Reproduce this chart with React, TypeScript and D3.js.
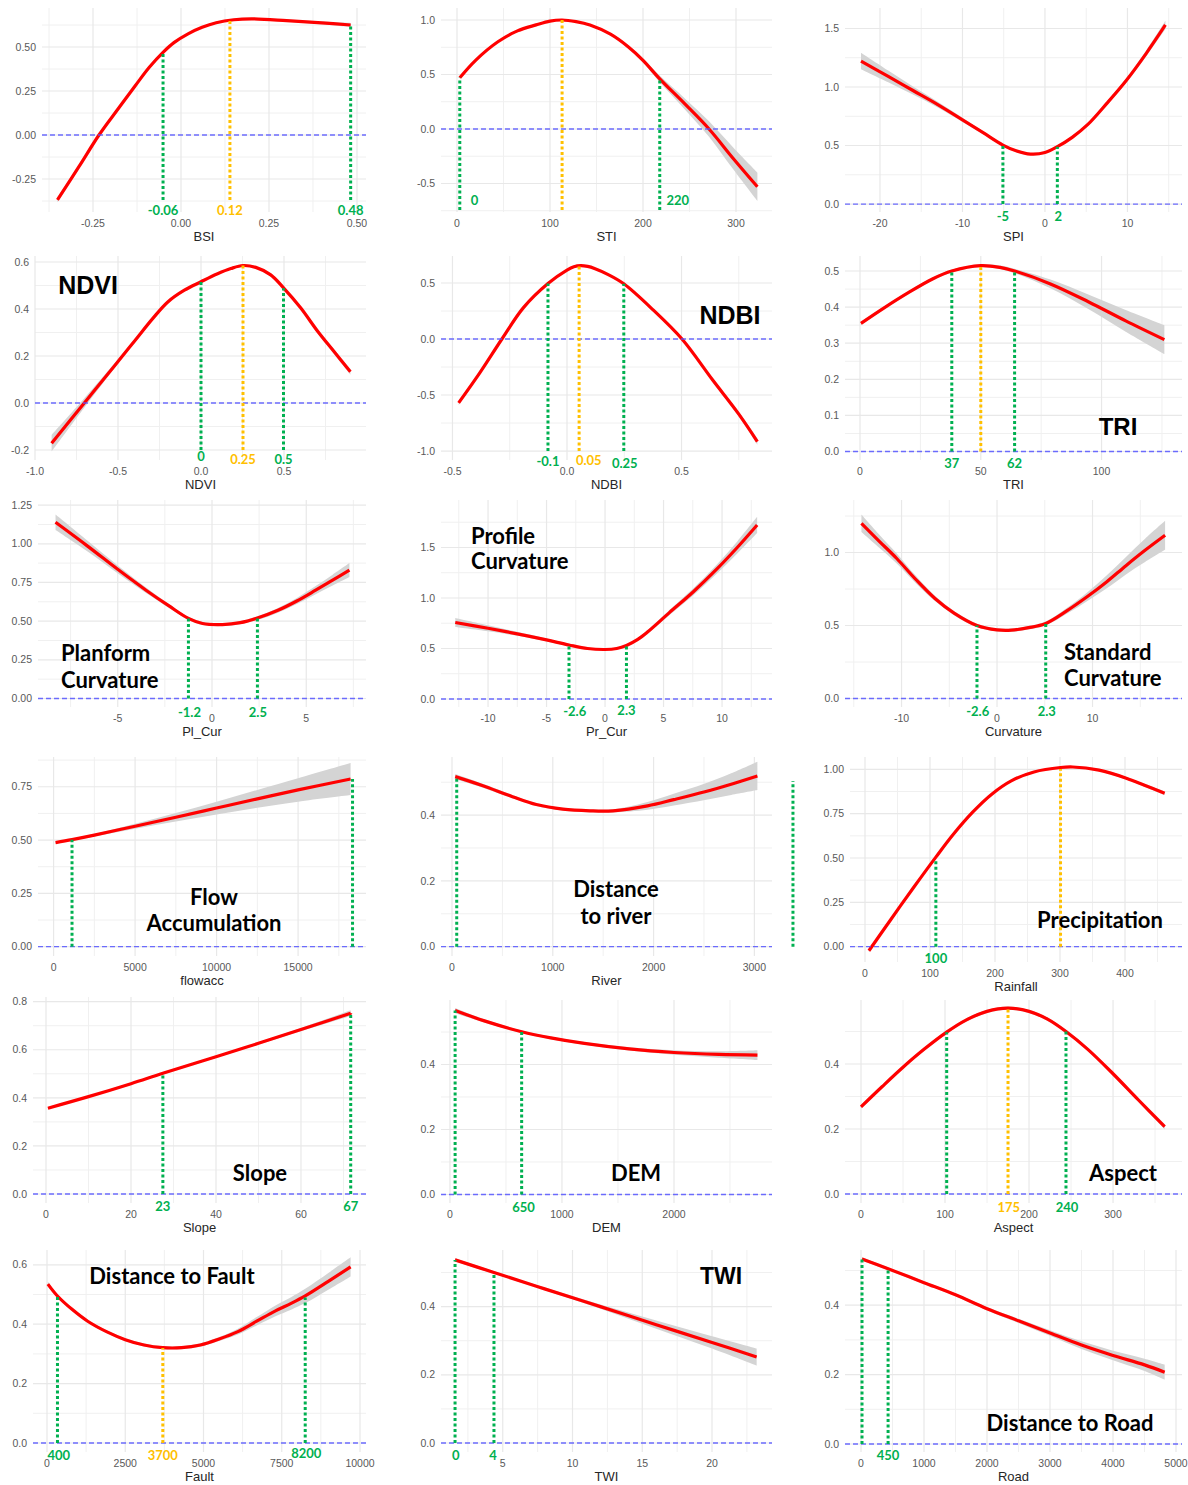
import React from 'react';
import * as d3 from 'd3';

// fitted curves: [x, fitted value, half width of the grey band]
const bsiFit = [[-0.351,-0.369,0.015],[-0.29,-0.18,0.012],[-0.233,0,0.01],[-0.18,0.145,0.008],[-0.13,0.28,0.007],[-0.09,0.385,0.006],[-0.051,0.47,0.006],[-0.02,0.525,0.005],[0.02,0.575,0.005],[0.06,0.612,0.005],[0.1,0.638,0.005],[0.15,0.655,0.005],[0.2,0.66,0.005],[0.3,0.65,0.006],[0.4,0.637,0.008],[0.482,0.625,0.012]];
const stiFit = [[3,0.47,0.01],[20,0.63,0.008],[44,0.8,0.006],[65,0.9,0.005],[85,0.955,0.005],[100,0.99,0.005],[113,1.0,0.005],[128,0.985,0.005],[143,0.954,0.006],[165,0.87,0.01],[184,0.755,0.015],[200,0.63,0.02],[218,0.46,0.03],[245,0.23,0.05],[271,0,0.07],[297,-0.27,0.1],[323,-0.53,0.13]];
const spiFit = [[-22.3,1.222,0.07],[-19,1.09,0.05],[-16,0.97,0.035],[-13,0.85,0.025],[-10,0.72,0.018],[-7.5,0.61,0.012],[-5.1,0.504,0.01],[-3.5,0.455,0.01],[-1.75,0.427,0.01],[0,0.44,0.01],[1.5,0.49,0.01],[3.3,0.57,0.012],[5.2,0.68,0.014],[7.5,0.86,0.016],[9.9,1.06,0.02],[12.3,1.29,0.025],[14.6,1.53,0.035]];
const ndviFit = [[-0.9,-0.171,0.035],[-0.703,0,0.02],[-0.518,0.161,0.01],[-0.4,0.264,0.006],[-0.29,0.36,0.005],[-0.2,0.43,0.004],[-0.1,0.48,0.004],[0,0.516,0.004],[0.1,0.55,0.004],[0.18,0.572,0.004],[0.253,0.585,0.004],[0.33,0.577,0.004],[0.42,0.545,0.004],[0.497,0.49,0.005],[0.6,0.405,0.006],[0.705,0.303,0.008],[0.8,0.22,0.01],[0.9,0.133,0.012]];
const ndbiFit = [[-0.473,-0.57,0.02],[-0.38,-0.3,0.012],[-0.284,0,0.008],[-0.19,0.28,0.006],[-0.083,0.495,0.005],[0,0.615,0.005],[0.03,0.645,0.005],[0.06,0.655,0.005],[0.09,0.648,0.005],[0.12,0.63,0.005],[0.18,0.575,0.005],[0.248,0.493,0.006],[0.376,0.26,0.008],[0.502,0,0.01],[0.636,-0.366,0.015],[0.75,-0.67,0.02],[0.831,-0.915,0.028]];
const triFit = [[0.4,0.355,0.005],[10,0.398,0.004],[20,0.44,0.004],[30,0.478,0.004],[38,0.5,0.004],[50,0.515,0.004],[58,0.51,0.005],[64,0.5,0.006],[78.6,0.465,0.012],[94.5,0.415,0.02],[110,0.362,0.03],[126,0.31,0.04]];
const plCurFit = [[-8.3,1.139,0.05],[-6.6,0.985,0.035],[-4.95,0.83,0.025],[-3.5,0.7,0.018],[-2.3,0.6,0.013],[-1.25,0.518,0.01],[-0.5,0.485,0.01],[0.55,0.478,0.01],[1.5,0.49,0.01],[2.41,0.52,0.012],[3.5,0.57,0.015],[4.5,0.63,0.02],[5.5,0.7,0.027],[6.4,0.765,0.035],[7.29,0.83,0.045]];
const prCurFit = [[-12.8,0.757,0.045],[-10,0.7,0.03],[-7.5,0.645,0.02],[-5,0.585,0.015],[-3.08,0.535,0.012],[-1.5,0.5,0.01],[0,0.49,0.01],[1,0.5,0.01],[1.83,0.53,0.012],[2.8,0.59,0.015],[3.6,0.66,0.018],[5.5,0.855,0.025],[7.55,1.062,0.035],[9.5,1.28,0.045],[11.3,1.5,0.06],[13.0,1.723,0.08]];
const curvFit = [[-14.2,1.2,0.06],[-12.3,1.075,0.045],[-10.5,0.959,0.035],[-8.5,0.815,0.025],[-6.5,0.685,0.018],[-4.5,0.585,0.014],[-2.1,0.5,0.012],[0,0.47,0.011],[1.5,0.468,0.011],[3.3,0.485,0.012],[5.1,0.514,0.014],[7.3,0.6,0.02],[9.5,0.7,0.03],[11.5,0.8,0.045],[13.5,0.91,0.06],[15.5,1.015,0.08],[17.6,1.118,0.1]];
const flowFit = [[120,0.488,0.004],[1130,0.502,0.004],[2500,0.523,0.006],[5000,0.565,0.012],[7500,0.607,0.02],[10000,0.65,0.03],[12500,0.693,0.042],[15000,0.735,0.055],[18220,0.786,0.075]];
const riverFit = [[32,0.517,0.008],[300,0.49,0.006],[600,0.456,0.005],[837,0.432,0.004],[1100,0.418,0.004],[1369,0.413,0.004],[1597,0.413,0.005],[1940,0.428,0.012],[2200,0.447,0.018],[2510,0.471,0.025],[2770,0.494,0.033],[3030,0.519,0.043]];
const rainFit = [[6,-0.023,0.01],[40,0.155,0.007],[75,0.335,0.005],[109,0.505,0.005],[135,0.63,0.005],[166,0.76,0.005],[195,0.86,0.005],[225,0.935,0.005],[260,0.985,0.005],[300.8,1.01,0.005],[319.7,1.013,0.005],[360,0.995,0.006],[402,0.95,0.007],[430,0.91,0.008],[461,0.865,0.01]];
const slopeFit = [[0.45,0.357,0.005],[10,0.405,0.004],[20,0.459,0.004],[27.5,0.502,0.004],[40,0.571,0.004],[50,0.627,0.005],[60,0.684,0.007],[71.7,0.752,0.012]];
const demFit = [[46,0.566,0.008],[300,0.535,0.005],[640,0.501,0.004],[900,0.482,0.004],[1200,0.465,0.004],[1600,0.448,0.005],[2000,0.437,0.007],[2400,0.431,0.01],[2745,0.429,0.015]];
const aspectFit = [[0,0.268,0.006],[25,0.33,0.005],[50,0.39,0.005],[75,0.445,0.005],[102,0.498,0.005],[125,0.535,0.005],[150,0.562,0.005],[175,0.572,0.005],[200,0.562,0.005],[222,0.538,0.005],[244,0.5,0.005],[270,0.445,0.005],[300,0.37,0.006],[330,0.29,0.006],[361.5,0.207,0.008]];
const faultFit = [[28,0.535,0.008],[335,0.495,0.006],[800,0.45,0.005],[1300,0.41,0.005],[1900,0.375,0.005],[2500,0.348,0.005],[3100,0.33,0.005],[3700,0.321,0.005],[4300,0.321,0.005],[4900,0.33,0.006],[5500,0.35,0.007],[6100,0.375,0.01],[6700,0.41,0.014],[7300,0.445,0.018],[7800,0.47,0.021],[8250,0.495,0.024],[9000,0.545,0.028],[9700,0.593,0.032]];
const twiFit = [[1.58,0.537,0.005],[4.37,0.5,0.004],[8,0.452,0.004],[12,0.4,0.006],[16,0.347,0.012],[20,0.295,0.018],[23.2,0.252,0.025]];
const roadFit = [[16,0.533,0.005],[430,0.505,0.004],[1000,0.465,0.004],[1500,0.43,0.004],[2000,0.39,0.005],[2500,0.355,0.006],[3000,0.32,0.008],[3500,0.285,0.011],[4000,0.255,0.014],[4500,0.228,0.018],[4820,0.207,0.022]];

// threshold lines: from y0 up to y1, g = green, o = orange
const bsiMarks = [{x:-0.051,y0:-0.369,y1:0.47,label:'-0.06',kind:'g'},{x:0.139,y0:-0.369,y1:0.655,label:'0.12',kind:'o'},{x:0.482,y0:-0.369,y1:0.625,label:'0.48',kind:'g'}];
const stiMarks = [{x:3,y0:-0.743,y1:0.47,label:'0',kind:'g'},{x:113,y0:-0.743,y1:1.0,label:'',kind:'o'},{x:218,y0:-0.743,y1:0.46,label:'220',kind:'g'}];
const spiMarks = [{x:-5.1,y0:0,y1:0.504,label:'-5',kind:'g'},{x:1.5,y0:0,y1:0.49,label:'2',kind:'g'}];
const ndviMarks = [{x:0,y0:-0.2,y1:0.516,label:'0',kind:'g'},{x:0.253,y0:-0.2,y1:0.585,label:'0.25',kind:'o'},{x:0.497,y0:-0.2,y1:0.488,label:'0.5',kind:'g'}];
const ndbiMarks = [{x:-0.083,y0:-1.0,y1:0.495,label:'-0.1',kind:'g'},{x:0.053,y0:-1.0,y1:0.655,label:'0.05',kind:'o'},{x:0.248,y0:-1.0,y1:0.493,label:'0.25',kind:'g'}];
const triMarks = [{x:38,y0:0,y1:0.5,label:'37',kind:'g'},{x:50,y0:0,y1:0.515,label:'',kind:'o'},{x:64,y0:0,y1:0.5,label:'62',kind:'g'}];
const plCurMarks = [{x:-1.25,y0:0,y1:0.518,label:'-1.2',kind:'g'},{x:2.41,y0:0,y1:0.52,label:'2.5',kind:'g'}];
const prCurMarks = [{x:-3.08,y0:0,y1:0.535,label:'-2.6',kind:'g'},{x:1.83,y0:0,y1:0.53,label:'2.3',kind:'g'}];
const curvMarks = [{x:-2.1,y0:0,y1:0.5,label:'-2.6',kind:'g'},{x:5.1,y0:0,y1:0.514,label:'2.3',kind:'g'}];
const flowMarks = [{x:1130,y0:0,y1:0.502,label:'',kind:'g'},{x:18340,y0:0,y1:0.786,label:'',kind:'g'}];
const riverMarks = [{x:47,y0:0,y1:0.517,label:'',kind:'g'},{x:3383,y0:0,y1:0.504,label:'',kind:'g'}];
const rainMarks = [{x:109,y0:0,y1:0.49,label:'100',kind:'g'},{x:300.8,y0:0,y1:1.002,label:'',kind:'o'}];
const slopeMarks = [{x:27.5,y0:0,y1:0.502,label:'23',kind:'g'},{x:71.7,y0:0,y1:0.752,label:'67',kind:'g'}];
const demMarks = [{x:46,y0:0,y1:0.566,label:'',kind:'g'},{x:640,y0:0,y1:0.501,label:'650',kind:'g'}];
const aspectMarks = [{x:102,y0:0,y1:0.498,label:'',kind:'g'},{x:175,y0:0,y1:0.572,label:'175',kind:'o'},{x:244,y0:0,y1:0.5,label:'240',kind:'g'}];
const faultMarks = [{x:335,y0:0,y1:0.495,label:'400',kind:'g'},{x:3700,y0:0,y1:0.32,label:'3700',kind:'o'},{x:8250,y0:0,y1:0.49,label:'8200',kind:'g'}];
const twiMarks = [{x:1.58,y0:0,y1:0.537,label:'0',kind:'g'},{x:4.37,y0:0,y1:0.5,label:'4',kind:'g'}];
const roadMarks = [{x:16,y0:0,y1:0.533,label:'',kind:'g'},{x:430,y0:0,y1:0.5,label:'450',kind:'g'}];

// axis breaks
const bsiXTicks = [-0.25, 0, 0.25, 0.5], bsiYTicks = [-0.25, 0, 0.25, 0.5];
const stiXTicks = [0, 100, 200, 300], stiYTicks = [-0.5, 0, 0.5, 1.0];
const spiXTicks = [-20, -10, 0, 10], spiYTicks = [0, 0.5, 1.0, 1.5];
const ndviXTicks = [-1, -0.5, 0, 0.5], ndviYTicks = [-0.2, 0, 0.2, 0.4, 0.6];
const ndbiXTicks = [-0.5, 0, 0.5], ndbiYTicks = [-1, -0.5, 0, 0.5];
const triXTicks = [0, 50, 100], triYTicks = [0, 0.1, 0.2, 0.3, 0.4, 0.5];
const plCurXTicks = [-5, 0, 5], plCurYTicks = [0, 0.25, 0.5, 0.75, 1, 1.25];
const prCurXTicks = [-10, -5, 0, 5, 10], prCurYTicks = [0, 0.5, 1, 1.5];
const curvXTicks = [-10, 0, 10], curvYTicks = [0, 0.5, 1];
const flowXTicks = [0, 5000, 10000, 15000], flowYTicks = [0, 0.25, 0.5, 0.75];
const riverXTicks = [0, 1000, 2000, 3000], riverYTicks = [0, 0.2, 0.4];
const rainXTicks = [0, 100, 200, 300, 400], rainYTicks = [0, 0.25, 0.5, 0.75, 1];
const slopeXTicks = [0, 20, 40, 60], slopeYTicks = [0, 0.2, 0.4, 0.6, 0.8];
const demXTicks = [0, 1000, 2000], demYTicks = [0, 0.2, 0.4];
const aspectXTicks = [0, 100, 200, 300], aspectYTicks = [0, 0.2, 0.4];
const faultXTicks = [0, 2500, 5000, 7500, 10000], faultYTicks = [0, 0.2, 0.4, 0.6];
const twiXTicks = [5, 10, 15, 20], twiYTicks = [0, 0.2, 0.4];
const roadXTicks = [0, 1000, 2000, 3000, 4000, 5000], roadYTicks = [0, 0.2, 0.4];

const GREEN = '#00b050';
const ORANGE = '#ffc000';
const SANS = "'Liberation Sans', Arial, sans-serif";
const CAL = "Lato, 'Open Sans', sans-serif";

const big = (text, x, y) => ({ text, x, y, size: 25, family: SANS, anchor: 'middle' });
const cal = (text, x, y, anchor = 'middle') => ({ text, x, y, size: 22, family: CAL, anchor });

// layout of each small multiple (box = [left, right, top, bottom] in px)
const panels = [
  { fit: bsiFit, marks: bsiMarks, xt: bsiXTicks, yt: bsiYTicks, xd: 2, yd: 2, xlab: 'BSI', box: [42, 366, 8, 212], xDom: [-0.3949, 0.5256], yDom: [-0.4375, 0.7216], lab: [[0, 14.7], [0, 14.7], [0, 14.7]], titles: [] },
  { fit: stiFit, marks: stiMarks, xt: stiXTicks, yt: stiYTicks, xd: 0, yd: 1, xlab: 'STI', box: [441, 772, 8, 212], xDom: [-17.2, 338.7], yDom: [-0.7615, 1.1101], lab: [[14.7, -5.3], [0, 0], [18, -5.3]], titles: [] },
  { fit: spiFit, marks: spiMarks, xt: spiXTicks, yt: spiYTicks, xd: 0, yd: 1, xlab: 'SPI', box: [845, 1182, 8, 212], xDom: [-24.24, 16.61], yDom: [-0.068, 1.675], lab: [[0, 16.7], [1, 16.7]], titles: [] },
  { fit: ndviFit, marks: ndviMarks, xt: ndviXTicks, yt: ndviYTicks, xd: 1, yd: 1, xlab: 'NDVI', box: [35, 366, 256, 460], xDom: [-1.0, 0.994], yDom: [-0.2426, 0.6255], lab: [[0, 11.2], [0, 14.2], [0, 14.2]], titles: [big('NDVI', 88, 294)] },
  { fit: ndbiFit, marks: ndbiMarks, xt: ndbiXTicks, yt: ndbiYTicks, xd: 1, yd: 1, xlab: 'NDBI', box: [441, 772, 256, 460], xDom: [-0.55, 0.895], yDom: [-1.08, 0.741], lab: [[0, 15.4], [9.7, 14.4], [1, 17]], titles: [big('NDBI', 730, 324)] },
  { fit: triFit, marks: triMarks, xt: triXTicks, yt: triYTicks, xd: 0, yd: 1, xlab: 'TRI', box: [845, 1182, 256, 460], xDom: [-6.21, 133.3], yDom: [-0.0235, 0.5416], lab: [[0, 16.2], [0, 0], [0, 16.2]], titles: [{ ...big('TRI', 1118, 435), size: 24 }] },
  { fit: plCurFit, marks: plCurMarks, xt: plCurXTicks, yt: plCurYTicks, xd: 0, yd: 2, xlab: 'Pl_Cur', box: [38, 366, 500, 707], xDom: [-9.23, 8.17], yDom: [-0.055, 1.283], lab: [[1, 18.9], [0.5, 18.9]], titles: [cal('Planform', 61, 661, 'start'), cal('Curvature', 61, 688, 'start')] },
  { fit: prCurFit, marks: prCurMarks, xt: prCurXTicks, yt: prCurYTicks, xd: 0, yd: 1, xlab: 'Pr_Cur', box: [441, 772, 500, 707], xDom: [-14.02, 14.27], yDom: [-0.0792, 1.97], lab: [[5.7, 17.4], [0, 15.7]], titles: [cal('Profile', 471, 544, 'start'), cal('Curvature', 471, 569, 'start')] },
  { fit: curvFit, marks: curvMarks, xt: curvXTicks, yt: curvYTicks, xd: 0, yd: 1, xlab: 'Curvature', box: [845, 1182, 500, 707], xDom: [-15.92, 19.37], yDom: [-0.0582, 1.3596], lab: [[0.7, 17.9], [1, 17.9]], titles: [cal('Standard', 1064, 660, 'start'), cal('Curvature', 1064, 686, 'start')] },
  { fit: flowFit, marks: flowMarks, xt: flowXTicks, yt: flowYTicks, xd: 0, yd: 2, xlab: 'flowacc', box: [38, 366, 757, 956], xDom: [-957, 19166], yDom: [-0.0436, 0.8894], lab: [], titles: [cal('Flow', 214, 905), cal('Accumulation', 214, 931)] },
  { fit: riverFit, marks: riverMarks, xt: riverXTicks, yt: riverYTicks, xd: 0, yd: 1, xlab: 'River', box: [441, 772, 757, 956], xDom: [-109, 3175], yDom: [-0.0283, 0.5766], lab: [], titles: [cal('Distance', 616, 897), cal('to river', 616, 924)] },
  { fit: rainFit, marks: rainMarks, xt: rainXTicks, yt: rainYTicks, xd: 0, yd: 2, xlab: 'Rainfall', box: [850, 1182, 757, 962], xDom: [-23.1, 487.7], yDom: [-0.0862, 1.0693], lab: [[0, 16.3], [0, 0]], titles: [cal('Precipitation', 1100, 928)] },
  { fit: slopeFit, marks: slopeMarks, xt: slopeXTicks, yt: slopeYTicks, xd: 0, yd: 1, xlab: 'Slope', box: [33, 366, 997, 1203], xDom: [-3.06, 75.3], yDom: [-0.0374, 0.8195], lab: [[0, 17.2], [0, 17.2]], titles: [cal('Slope', 260, 1181)] },
  { fit: demFit, marks: demMarks, xt: demXTicks, yt: demYTicks, xd: 0, yd: 1, xlab: 'DEM', box: [441, 772, 1000, 1203], xDom: [-80, 2875], yDom: [-0.0262, 0.5985], lab: [[0, 0], [1.8, 17.5]], titles: [cal('DEM', 636, 1181)] },
  { fit: aspectFit, marks: aspectMarks, xt: aspectXTicks, yt: aspectYTicks, xd: 0, yd: 1, xlab: 'Aspect', box: [845, 1182, 1000, 1203], xDom: [-19.05, 382.1], yDom: [-0.0277, 0.5969], lab: [[0, 0], [0.8, 18], [1, 18]], titles: [cal('Aspect', 1123, 1181)] },
  { fit: faultFit, marks: faultMarks, xt: faultXTicks, yt: faultYTicks, xd: 0, yd: 1, xlab: 'Fault', box: [33, 366, 1250, 1452], xDom: [-447, 10192], yDom: [-0.0303, 0.6498], lab: [[1.3, 16.7], [0, 16.7], [1, 15]], titles: [cal('Distance to Fault', 172, 1284)] },
  { fit: twiFit, marks: twiMarks, xt: twiXTicks, yt: twiYTicks, xd: 0, yd: 1, xlab: 'TWI', box: [441, 772, 1250, 1452], xDom: [0.573, 24.3], yDom: [-0.0264, 0.566], lab: [[0.7, 16.7], [-1, 16.7]], titles: [{ ...big('TWI', 721, 1284), size: 23 }] },
  { fit: roadFit, marks: roadMarks, xt: roadXTicks, yt: roadYTicks, xd: 0, yd: 1, xlab: 'Road', box: [845, 1182, 1250, 1452], xDom: [-254, 5095], yDom: [-0.0231, 0.5591], lab: [[0, 0], [0, 16.4]], titles: [cal('Distance to Road', 1070, 1431)] },
];

// minor breaks sit half way between the major ones
function minorBreaks(ticks, dom) {
  const s = ticks[1] - ticks[0];
  let v = ticks[0] - s / 2;
  while (v - s >= dom[0]) v -= s;
  const out = [];
  for (; v <= dom[1]; v += s) if (v >= dom[0]) out.push(v);
  return out;
}

function Panel({ p }) {
  const [l, r, t, b] = p.box;
  const x = d3.scaleLinear().domain(p.xDom).range([l, r]);
  const y = d3.scaleLinear().domain(p.yDom).range([b, t]);
  const inX = (v) => v >= p.xDom[0] - 1e-9 && v <= p.xDom[1] + 1e-9;
  const inY = (v) => v >= p.yDom[0] - 1e-9 && v <= p.yDom[1] + 1e-9;

  const smooth = d3.curveCatmullRom.alpha(0.5);
  const line = d3.line().x(d => x(d[0])).y(d => y(d[1])).curve(smooth);
  const band = d3.area().x(d => x(d[0])).y0(d => y(d[1] - d[2])).y1(d => y(d[1] + d[2])).curve(smooth);

  return (
    <g>
      {minorBreaks(p.xt, p.xDom).map((v, i) => <line key={'mx' + i} x1={x(v)} x2={x(v)} y1={t} y2={b} stroke="#f0f0f0" strokeWidth={1} />)}
      {minorBreaks(p.yt, p.yDom).map((v, i) => <line key={'my' + i} x1={l} x2={r} y1={y(v)} y2={y(v)} stroke="#f0f0f0" strokeWidth={1} />)}
      {p.xt.filter(inX).map((v, i) => <line key={'gx' + i} x1={x(v)} x2={x(v)} y1={t} y2={b} stroke="#e8e8e8" strokeWidth={1.2} />)}
      {p.yt.filter(inY).map((v, i) => <line key={'gy' + i} x1={l} x2={r} y1={y(v)} y2={y(v)} stroke="#e8e8e8" strokeWidth={1.2} />)}

      <path d={band(p.fit)} fill="#d4d4d4" />
      <path d={line(p.fit)} fill="none" stroke="#ff0000" strokeWidth={3.2} strokeLinejoin="round" />
      <line x1={l} x2={r} y1={y(0)} y2={y(0)} stroke="#5555ff" strokeOpacity={0.85} strokeWidth={1.3} strokeDasharray="5,3" />

      {p.marks.map((m, i) => (
        <line key={'v' + i} x1={x(m.x)} x2={x(m.x)} y1={y(m.y0)} y2={y(m.y1)}
          stroke={m.kind === 'o' ? ORANGE : GREEN} strokeWidth={3} strokeDasharray="3,2.5" />
      ))}
      {p.marks.map((m, i) => m.label ? (
        <text key={'vl' + i} x={x(m.x) + p.lab[i][0]} y={y(m.y0) + p.lab[i][1]} textAnchor="middle"
          fontFamily={CAL} fontWeight="bold" fontSize={13} fill={m.kind === 'o' ? ORANGE : GREEN}>{m.label}</text>
      ) : null)}

      {p.xt.filter(inX).map((v, i) => (
        <text key={'tx' + i} x={x(v)} y={b + 15} textAnchor="middle" fontFamily={SANS} fontSize={10.5} fill="#595959">{v.toFixed(p.xd)}</text>
      ))}
      {p.yt.filter(inY).map((v, i) => (
        <text key={'ty' + i} x={l - 6} y={y(v)} dy="0.35em" textAnchor="end" fontFamily={SANS} fontSize={10.5} fill="#595959">{v.toFixed(p.yd)}</text>
      ))}
      <text x={(l + r) / 2} y={b + 29} textAnchor="middle" fontFamily={SANS} fontSize={13} fill="#262626">{p.xlab}</text>

      {p.titles.map((s, i) => (
        <text key={'t' + i} x={s.x} y={s.y} textAnchor={s.anchor} fontFamily={s.family} fontWeight="bold" fontSize={s.size} fill="#000">{s.text}</text>
      ))}
    </g>
  );
}

export default function App() {
  return (
    <svg width={1188} height={1485} style={{ position: 'absolute', left: 0, top: 0, background: '#fff' }}>
      {panels.map((p, i) => <Panel key={i} p={p} />)}
    </svg>
  );
}
